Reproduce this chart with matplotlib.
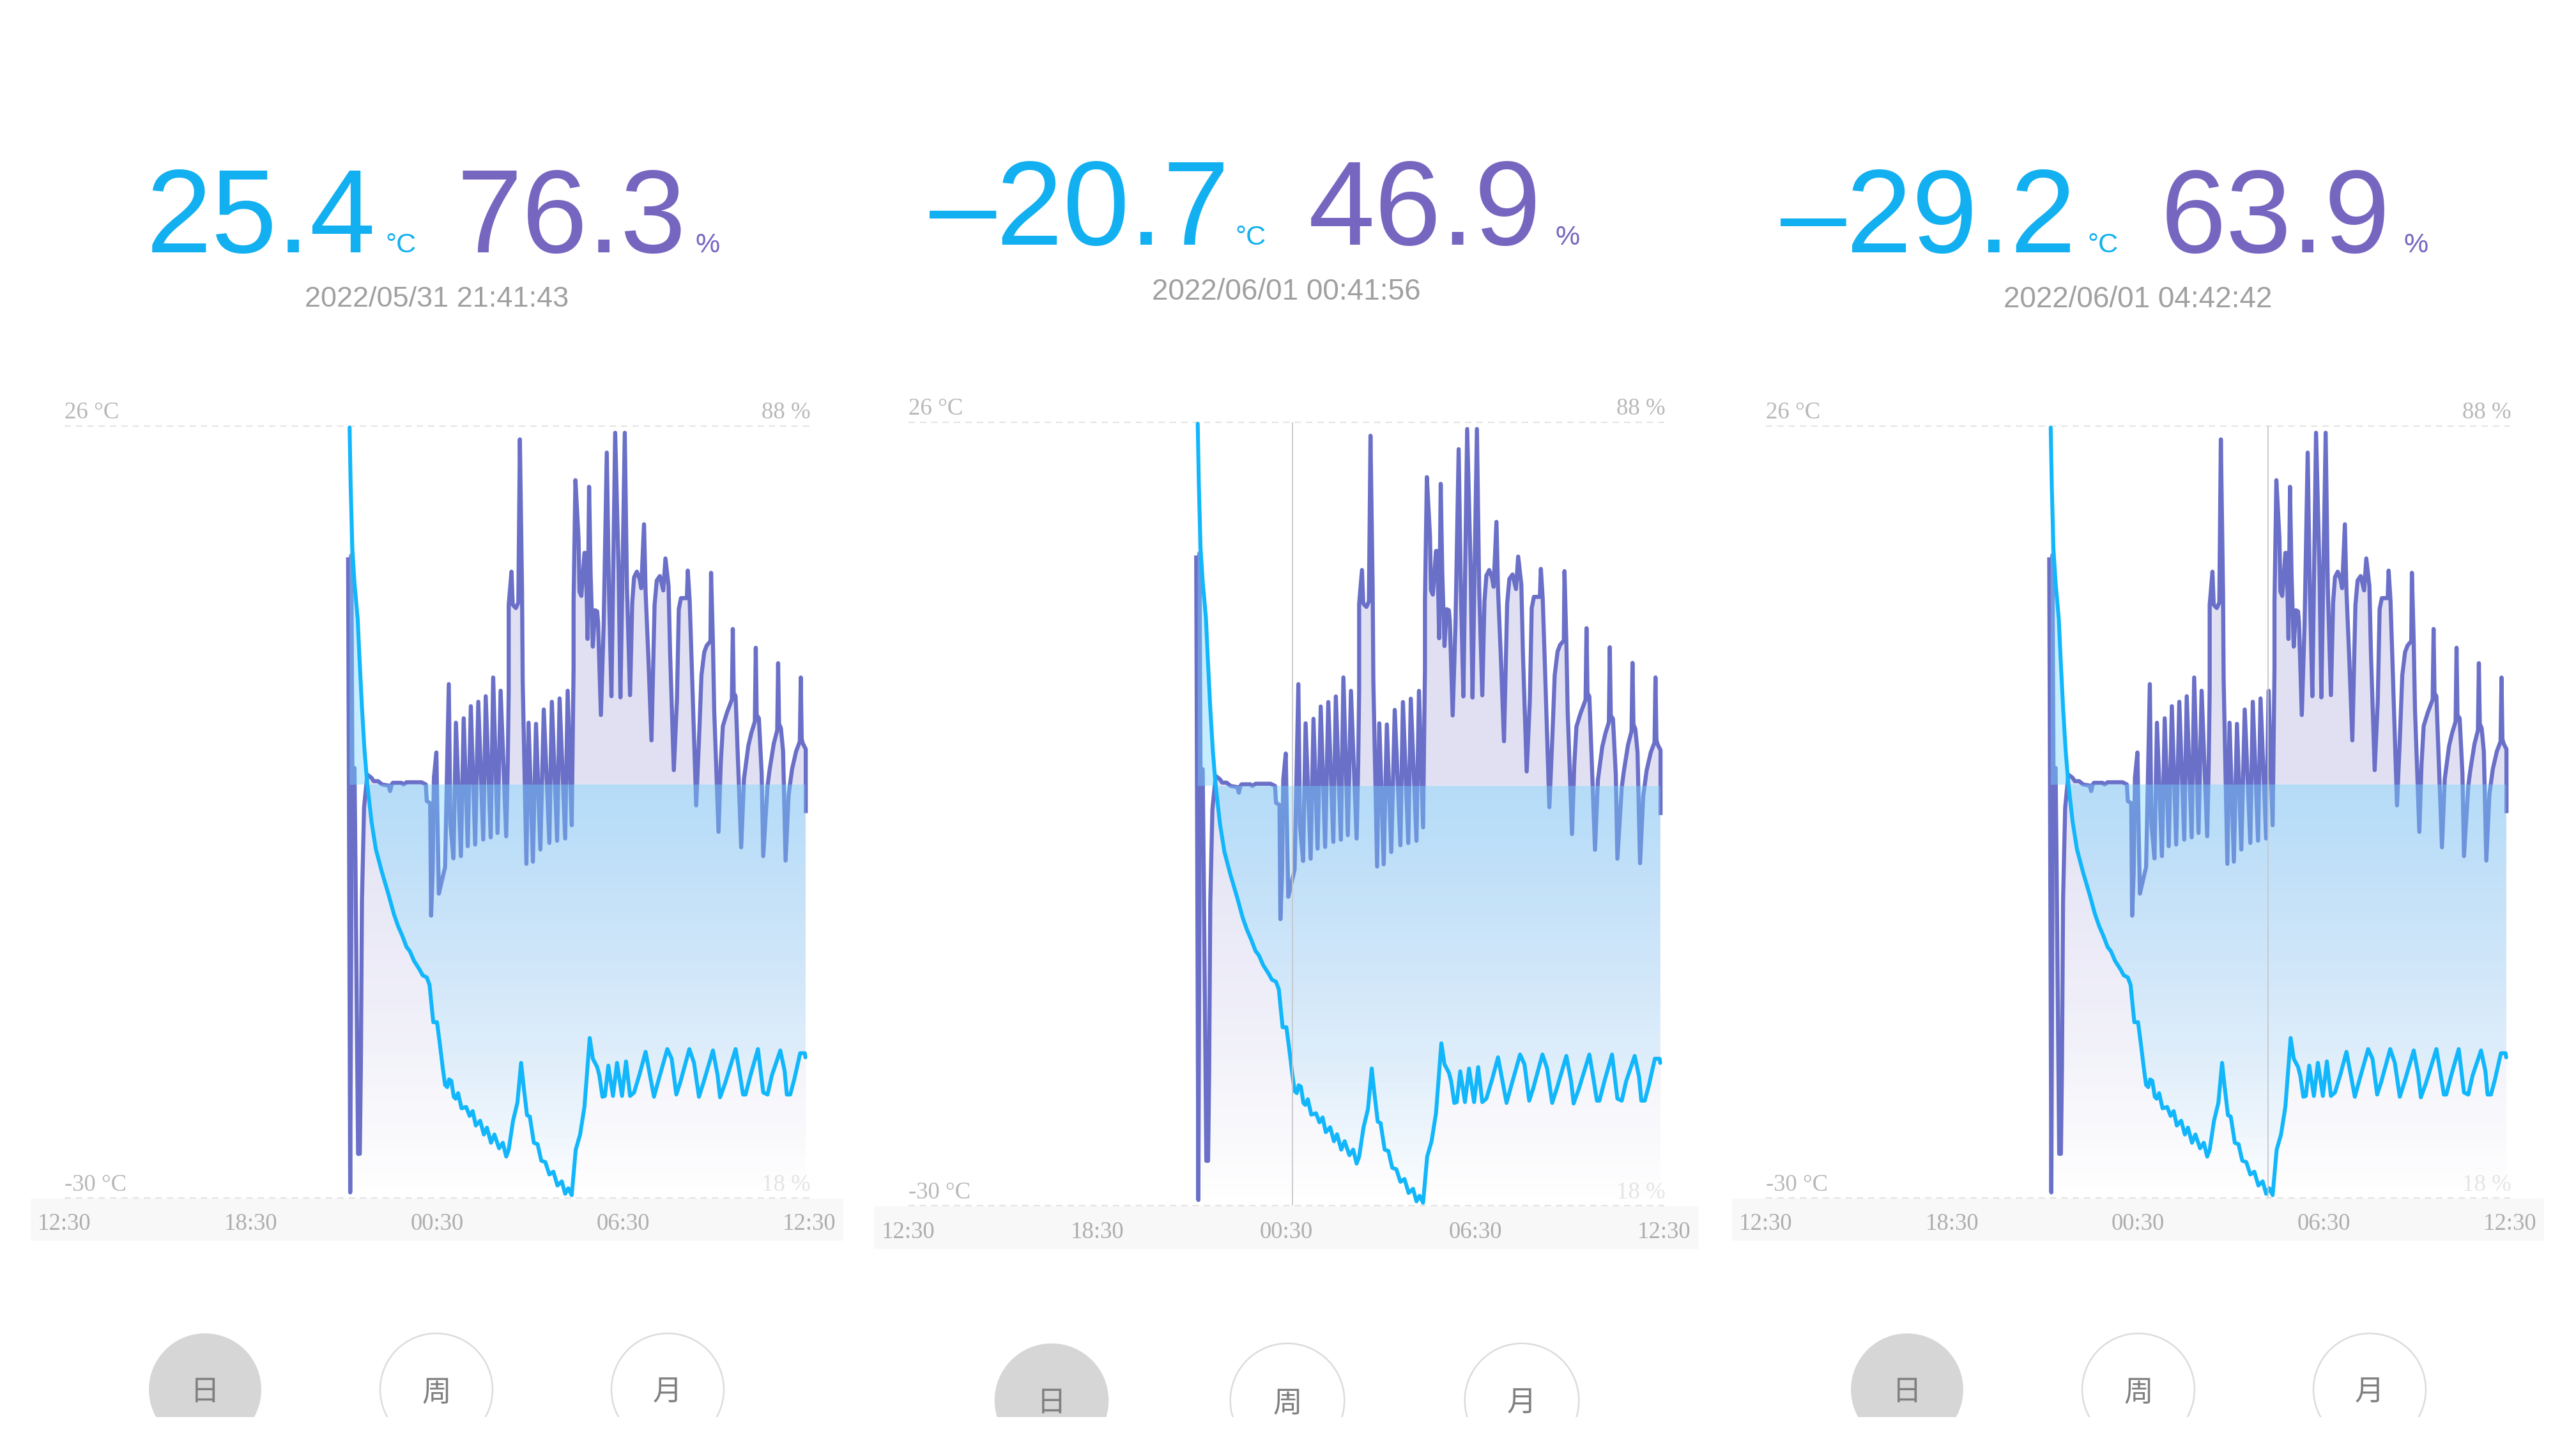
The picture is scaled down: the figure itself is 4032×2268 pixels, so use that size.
#!python
# three screenshots of the temperature / humidity history screen

import numpy as np
import matplotlib
matplotlib.use('Agg')
import matplotlib.pyplot as plt
from matplotlib.patches import Circle, Rectangle, PathPatch
from matplotlib.path import Path

W, H = 4032, 2268

# hours after 12:30, degrees C
temp_hours = [9.184, 9.218, 9.273, 9.342, 9.445, 9.5, 9.582, 9.664, 9.753, 9.89, 10.03, 10.23, 10.44,
              10.61, 10.75, 10.885, 11.02, 11.125, 11.26, 11.43, 11.54, 11.67, 11.76, 11.81, 11.88, 12.0,
              12.09, 12.19, 12.26, 12.33, 12.39, 12.46, 12.54, 12.6, 12.68, 12.79, 12.94, 13.05, 13.15,
              13.25, 13.39, 13.51, 13.61, 13.74, 13.85, 14.0, 14.12, 14.23, 14.31, 14.45, 14.59, 14.71,
              14.79, 14.9, 14.99, 15.12, 15.24, 15.36, 15.49, 15.62, 15.75, 15.88, 16.02, 16.13, 16.23,
              16.34, 16.47, 16.61, 16.75, 16.92, 17.02, 17.16, 17.23, 17.33, 17.41, 17.52, 17.67, 17.8,
              17.96, 18.09, 18.22, 18.35, 18.53, 18.72, 18.99, 19.15, 19.42, 19.56, 19.71, 19.84, 20.13,
              20.28, 20.44, 20.59, 20.89, 21.04, 21.12, 21.28, 21.62, 21.74, 21.86, 21.94, 22.1, 22.34,
              22.51, 22.65, 22.79, 23.06, 23.2, 23.27, 23.38, 23.51, 23.7, 23.85, 23.87]
temp_values = [25.9, 21.7, 17.05, 14.6, 12.0, 9.3, 5.6, 2.5, 0.05, -2.7, -4.7, -6.4, -8.0,
               -9.4, -10.3, -11.0, -11.8, -12.1, -12.8, -13.4, -13.85, -14.0, -14.55, -15.7, -17.25, -17.25,
               -18.8, -20.65, -21.8, -21.96, -21.4, -21.5, -22.66, -22.8, -22.4, -23.5, -23.4, -24.05, -23.7,
               -24.75, -24.4, -25.4, -24.9, -26.0, -25.4, -26.4, -26.0, -27.0, -26.5, -24.4, -23.1, -20.2,
               -21.9, -24.0, -24.1, -26.0, -26.1, -27.3, -27.4, -28.3, -28.1, -29.1, -28.8, -29.7, -29.3,
               -29.8, -26.5, -25.4, -23.4, -18.4, -19.9, -20.5, -21.1, -22.66, -22.6, -20.4, -22.6, -20.2,
               -22.6, -20.1, -22.6, -22.35, -21.0, -19.4, -22.66, -21.35, -19.2, -19.9, -22.5, -21.6, -19.2,
               -20.2, -22.66, -21.6, -19.3, -21.1, -22.7, -21.7, -19.2, -20.8, -22.5, -22.5, -21.1, -19.2,
               -22.35, -22.5, -21.1, -19.3, -20.8, -22.5, -22.5, -21.4, -19.5, -19.5, -19.8]

# hours after 12:30, percent
hum_hours = [9.136, 9.156, 9.204, 9.239, 9.239, 9.273, 9.342, 9.376, 9.431, 9.458, 9.513, 9.547, 9.582, 9.65,
             9.753, 9.89, 9.96, 10.1, 10.23, 10.44, 10.49, 10.54, 10.577, 10.85, 10.92, 11.02, 11.5, 11.64,
             11.67, 11.78, 11.81, 11.86, 11.9, 11.98, 12.02, 12.06, 12.15, 12.26, 12.31, 12.38, 12.43, 12.53,
             12.61, 12.77, 12.86, 12.99, 13.09, 13.23, 13.33, 13.49, 13.57, 13.73, 13.81, 13.95, 14.05, 14.23,
             14.28, 14.31, 14.31, 14.40, 14.44, 14.54, 14.62, 14.67, 14.74, 14.76, 14.88, 14.95, 15.09, 15.19,
             15.33, 15.44, 15.62, 15.7, 15.87, 15.95, 16.13, 16.21, 16.34, 16.4, 16.4, 16.46, 16.56, 16.59,
             16.65, 16.7, 16.75, 16.78, 16.82, 16.85, 16.9, 16.95, 17.02, 17.09, 17.16, 17.19, 17.28, 17.37,
             17.47, 17.54, 17.62, 17.74, 17.85, 17.91, 18.05, 18.12, 18.22, 18.29, 18.35, 18.44, 18.53, 18.58,
             18.67, 18.72, 18.81, 18.91, 19.01, 19.08, 19.18, 19.29, 19.36, 19.46, 19.51, 19.63, 19.73, 19.79,
             19.86, 20.05, 20.08, 20.14, 20.2, 20.35, 20.45, 20.52, 20.61, 20.69, 20.81, 20.83, 20.89, 20.93,
             21.07, 21.14, 21.21, 21.34, 21.5, 21.53, 21.56, 21.62, 21.71, 21.8, 21.89, 22.03, 22.13, 22.24,
             22.27, 22.3, 22.37, 22.46, 22.51, 22.65, 22.72, 22.85, 22.96, 22.99, 23.02, 23.08, 23.15, 23.23,
             23.33, 23.44, 23.57, 23.69, 23.72, 23.75, 23.79, 23.88, 23.88]
hum_values = [76.1, 60, 18.5, 45, 76.3, 57, 57, 47.5, 30, 22, 22, 30, 45, 53.4,
              56.4, 56.1, 55.8, 55.8, 55.5, 55.4, 54.9, 55.5, 55.65, 55.65, 55.5, 55.7, 55.7, 55.5,
              54.0, 53.8, 43.6, 47.6, 56.1, 58.4, 51.5, 45.6, 46.7, 48.0, 55, 64.6, 52, 48.8,
              61.1, 49.0, 61.5, 49.9, 62.6, 50.05, 63, 50.5, 63.5, 50.7, 65.2, 51.1, 64.0, 50.8,
              57.5, 64, 71.8, 74.8, 71.8, 71.5, 72, 86.8, 73, 65, 48.3, 61.1, 48.5, 61,
              49.6, 62.3, 50.2, 63, 50.4, 63.3, 50.6, 64, 51.8, 66, 72, 83.1, 77.8, 73,
              72.6, 74.5, 76.5, 76.5, 73, 68.7, 82.5, 74.5, 68, 71.3, 71.2, 70.2, 61.8, 70,
              85.6, 73, 63.5, 87.4, 75, 63.4, 87.4, 73.3, 63.6, 72, 74.3, 74.8, 74.1, 73.3,
              79.1, 73, 67, 59.5, 71.8, 74, 74.4, 73.1, 76, 73.5, 67.4, 56.8, 63.1, 71.4,
              72.4, 72.4, 74.9, 72.2, 67, 53.6, 60.2, 65.4, 67.5, 68.1, 68.5, 74.7, 68.3, 62.3,
              51.2, 57.3, 60.8, 62, 63.2, 69.6, 63.8, 63.5, 56.7, 49.8, 56, 59, 60.2, 61.2,
              67.9, 61.8, 61.5, 56.5, 49, 55.4, 56.9, 59.2, 60.4, 66.5, 61, 60.6, 58.5, 48.6,
              54.6, 56.9, 58.5, 59.4, 65.2, 59.6, 59.2, 58.7, 52.9]

time_labels = ['12:30', '18:30', '00:30', '06:30', '12:30']
time_ticks = [0, 6, 12, 18, 24]
buttons = ['日', '周', '月']

# temp, humidity, date, cursor hour (None when it sits on the first sample)
readouts = [('25.4', '76.3', '2022/05/31 21:41:43', None),
            ('\u201320.7', '46.9', '2022/06/01 00:41:56', 12.19),
            ('\u201329.2', '63.9', '2022/06/01 04:42:42', 16.2)]

# chart box left, right, top, bottom in pixels
panels = [(101, 1267, 667, 1875), (1422, 2605, 661, 1887), (2764, 3929, 667, 1875)]
# x positions of number parts: temp left, deg left, hum left, pct left, baseline, date y
headers = [(229, 604, 715, 1088, 395, 469), (1455, 1933, 2048, 2434, 383, 457), (2787, 3267, 3382, 3762, 395, 469)]
button_x = [(321, 683, 1045), (1646, 2015, 2382), (2985, 3347, 3709)]
button_y = [2175, 2192, 2175]

CYAN = '#12b6fb'
CYAN_TEXT = '#12b0f0'
PURPLE = '#6a6fc8'
PURPLE_TEXT = '#7766c0'


def gradient(rgb, stops, alphas, n=256):
    """Vertical rgba ramp, top row first"""
    img = np.zeros((n, 1, 4))
    img[:, :, 0] = rgb[0]
    img[:, :, 1] = rgb[1]
    img[:, :, 2] = rgb[2]
    img[:, 0, 3] = np.interp(np.linspace(0, 1, n), stops, alphas)
    return img


def draw_panel(fig, box):
    left, right, top, bottom = box
    pos = [left / W, 1 - bottom / H, (right - left) / W, (bottom - top) / H]

    ax_h = fig.add_axes(pos, facecolor='none')
    ax_h.set_xlim(0, 24)
    ax_h.set_ylim(18, 88)
    ax_h.axis('off')

    # purple area under humidity
    hx = np.array(hum_hours)
    hy = np.array(hum_values)
    verts = np.vstack([[hx[0], 18], np.column_stack([hx, hy]), [hx[-1], 18]])
    clip = PathPatch(Path(verts), transform=ax_h.transData, fc='none', ec='none')
    ax_h.add_patch(clip)
    im = ax_h.imshow(gradient((0.42, 0.40, 0.78), [0, 0.46, 0.8, 1], [0.2, 0.2, 0.09, 0.0]),
                     extent=(0, 24, 18, 88), aspect='auto', origin='upper', zorder=1)
    im.set_clip_path(clip)
    ax_h.plot(hum_hours, hum_values, color=PURPLE, lw=4.6, solid_joinstyle='round',
              solid_capstyle='butt', clip_on=False, zorder=2)

    ax_t = fig.add_axes(pos, facecolor='none')
    ax_t.set_xlim(0, 24)
    ax_t.set_ylim(-30, 26)
    ax_t.axis('off')

    # blue area between the temperature line and zero
    tx = np.array(temp_hours)
    ty = np.array(temp_values)
    verts = np.vstack([[tx[0], 0], np.column_stack([tx, ty]), [tx[-1], 0]])
    clip = PathPatch(Path(verts), transform=ax_t.transData, fc='none', ec='none')
    ax_t.add_patch(clip)
    ramp = gradient((0.47, 0.84, 1.0), [0, 1], [0.42, 0.02])
    im = ax_t.imshow(ramp, extent=(0, 24, -30, 0), aspect='auto', origin='upper', zorder=1)
    im.set_clip_path(clip)
    # the little part above zero right at the start
    verts2 = np.vstack([[tx[0], 0], np.column_stack([tx[:9], ty[:9]])])
    ax_t.add_patch(PathPatch(Path(verts2), fc=(0.47, 0.84, 1.0, 0.42), ec='none', zorder=1))
    ax_t.plot(temp_hours, temp_values, color=CYAN, lw=4.4, solid_joinstyle='round',
              solid_capstyle='round', clip_on=False, zorder=4)
    ax_t.set_xlim(0, 24)
    ax_t.set_ylim(-30, 26)
    return ax_t


fig = plt.figure(figsize=(W / 100, H / 100), dpi=100, facecolor='white')

# page layer, pixel coordinates
page = fig.add_axes([0, 0, 1, 1], facecolor='none')
page.set_xlim(0, W)
page.set_ylim(H, 0)
page.axis('off')

SERIF = 'Liberation Serif'
SANS = 'Liberation Sans'

for i, box in enumerate(panels):
    left, right, top, bottom = box
    scale = (right - left) / 1166

    # grey time band and dotted limits
    page.add_patch(Rectangle((left - 53 * scale, bottom + 1), (right - left) + 106 * scale, 66 * scale,
                             fc='#f8f8f8', ec='none', zorder=0))
    for y in (top, bottom):
        page.plot([left, right], [y, y], color='#e4e4e4', lw=1.6, dashes=(4.5, 3.5), zorder=1)

    ax = draw_panel(fig, box)

    cursor = readouts[i][3]
    if cursor is not None:
        ax.plot([cursor, cursor], [-30, 26], color='#c4c8cc', lw=1.3, zorder=5)

    for lab, tick in zip(time_labels, time_ticks):
        page.text(left + tick / 24 * (right - left), bottom + 41 * scale, lab, family=SERIF, fontsize=26.5,
                  color='#aeaeae', ha='center', va='center')
    page.text(left, top - 21 * scale, '26 °C', family=SERIF, fontsize=26.5, color='#b8b8b8', ha='left', va='center')
    page.text(right + 2, top - 21 * scale, '88 %', family=SERIF, fontsize=26.5, color='#b8b8b8', ha='right', va='center')
    page.text(left, bottom - 20 * scale, '-30 °C', family=SERIF, fontsize=26.5, color='#b8b8b8', ha='left', va='center')
    page.text(right + 2, bottom - 20 * scale, '18 %', family=SERIF, fontsize=26.5, color='#e6e6e6', ha='right', va='center',
              zorder=6)

    t_val, h_val, date, _ = readouts[i]
    tl, dl, hl, pl, base, date_y = headers[i]
    size = 133 * (1.015 if i == 1 else 1)
    page.text(tl, base, t_val, family=SANS, fontsize=size, color=CYAN_TEXT, ha='left', va='baseline')
    page.text(dl, base, '°C', family=SANS, fontsize=31, color=CYAN_TEXT, ha='left', va='baseline')
    page.text(hl, base, h_val, family=SANS, fontsize=size, color=PURPLE_TEXT, ha='left', va='baseline')
    page.text(pl, base, '%', family=SANS, fontsize=31, color=PURPLE_TEXT, ha='left', va='baseline')
    page.text((left + right) / 2, date_y, date, family=SANS, fontsize=33 if i else 32.5, color='#a0a0a0',
              ha='center', va='center')

    # day / week / month buttons, cut off by the bottom of the screenshot
    r = 88 * scale
    cut = Rectangle((0, 0), W, 2218, transform=page.transData)
    for j, (name, bx) in enumerate(zip(buttons, button_x[i])):
        c = Circle((bx, button_y[i]), r, fc='#d6d6d6' if j == 0 else 'white',
                   ec='none' if j == 0 else '#dcdcdc', lw=1.8, zorder=2)
        page.add_patch(c)
        c.set_clip_path(cut)
        page.text(bx, button_y[i] + 4, name, family=['Noto Sans CJK SC', 'DejaVu Sans'], fontsize=33,
                  weight='light', color='#808080', ha='center', va='center', zorder=3)

fig.savefig('out.png', dpi=100, facecolor='white')
